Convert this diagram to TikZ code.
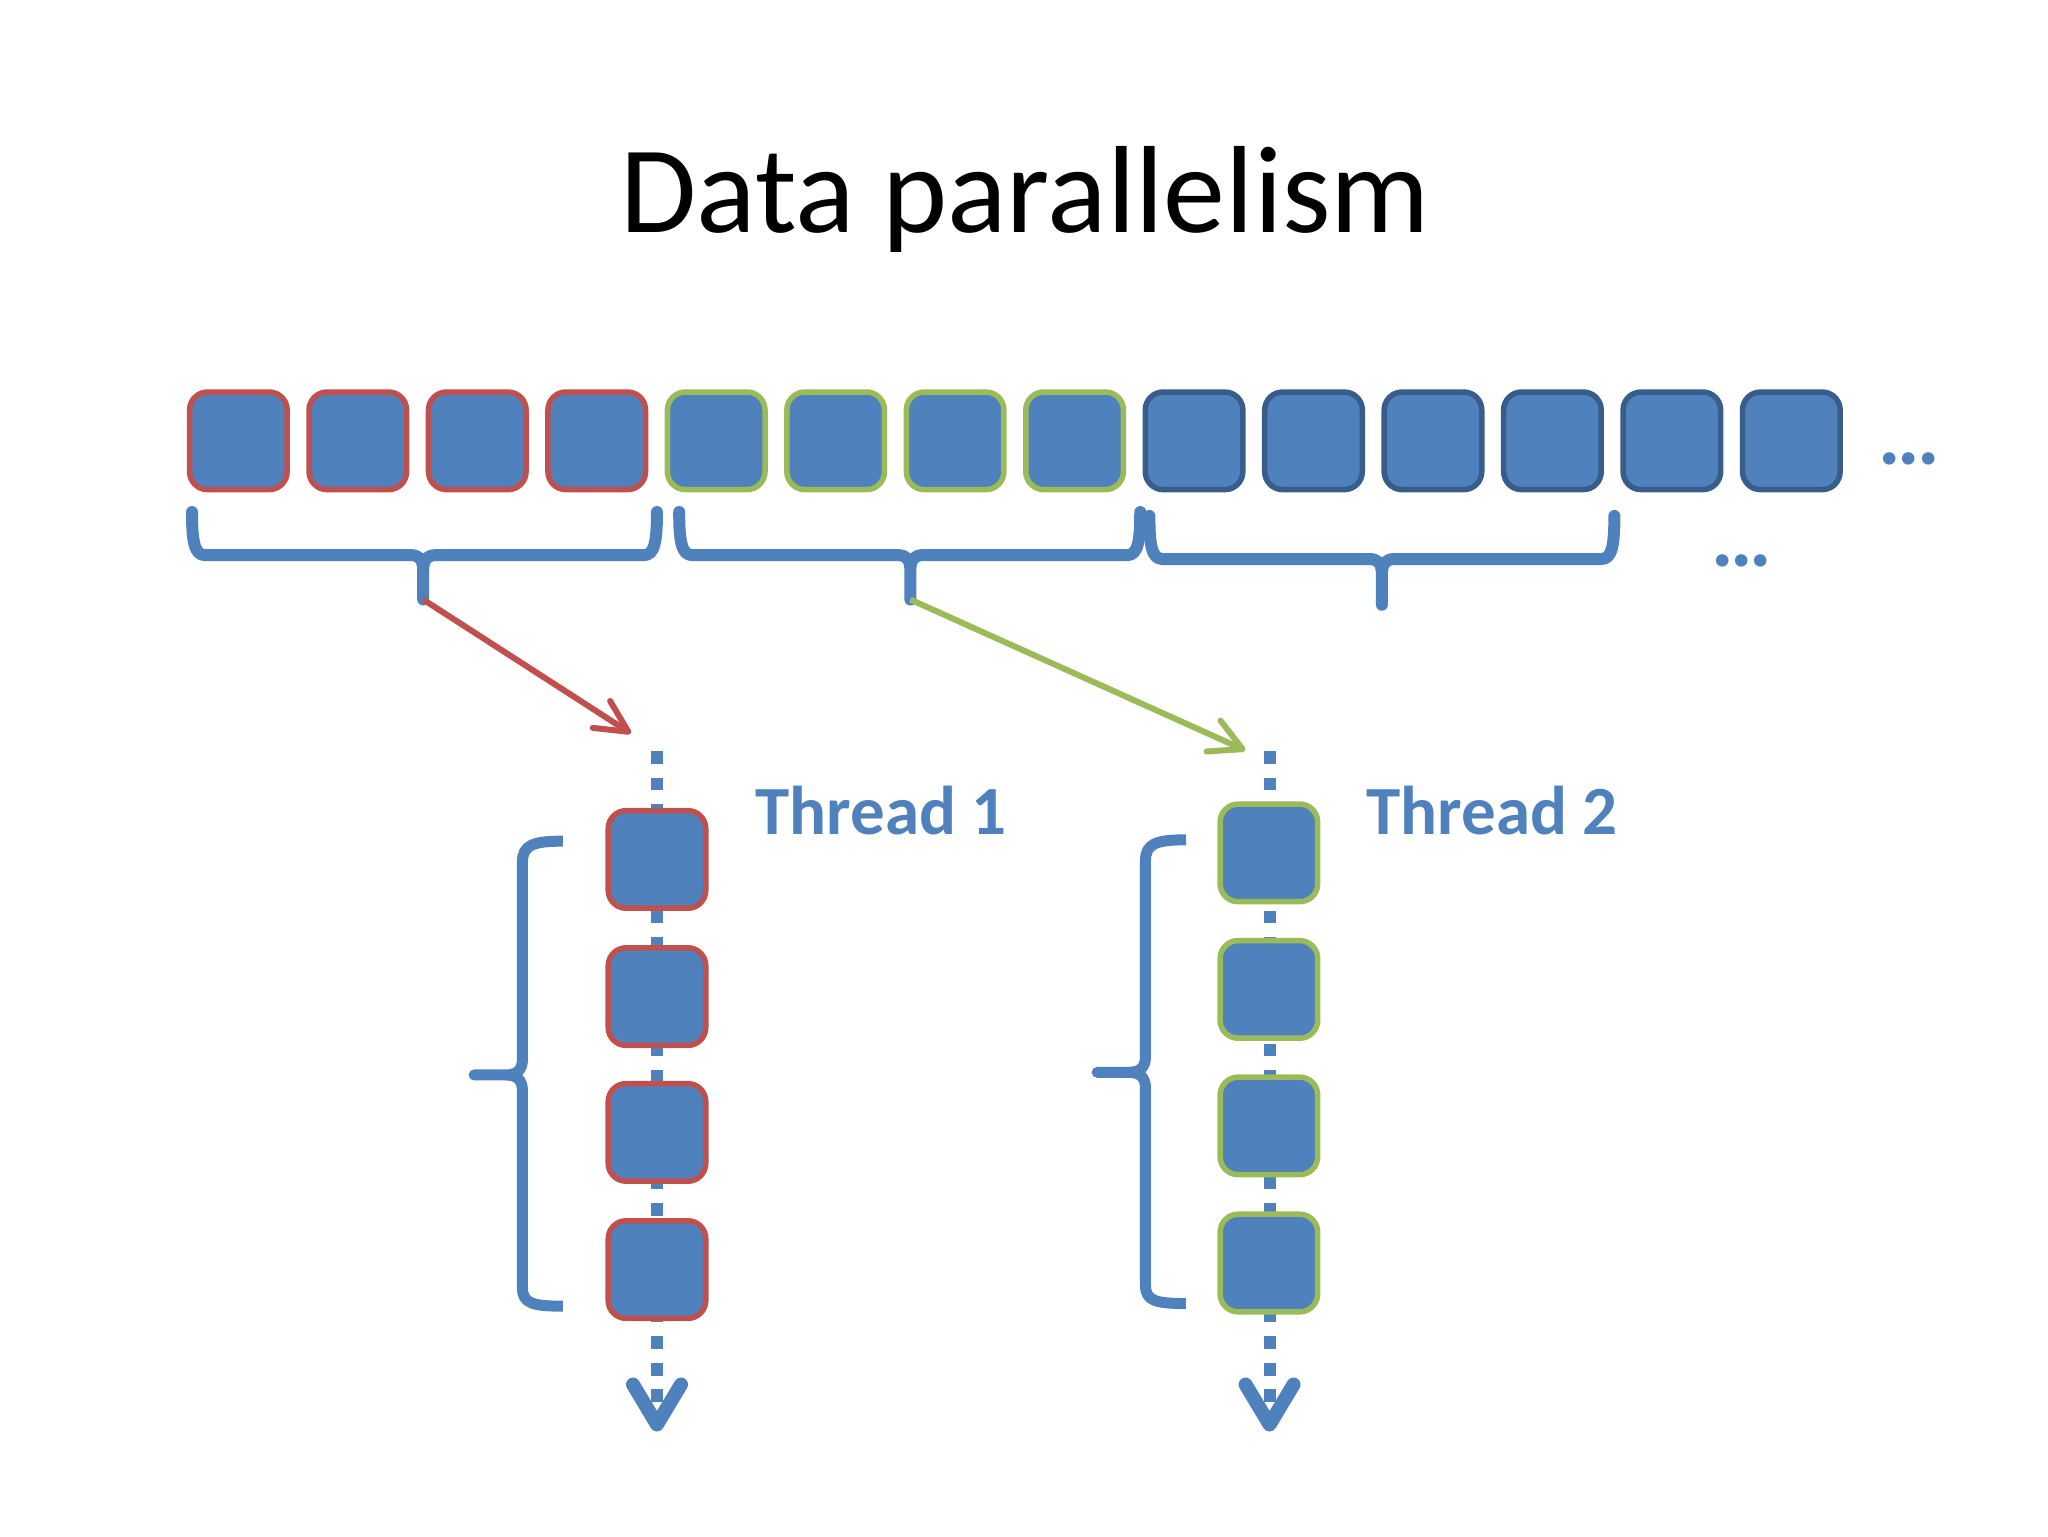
\documentclass[tikz,border=0pt]{standalone}
\usepackage{fontspec}
\setmainfont{Carlito}
\usetikzlibrary{arrows.meta}
\definecolor{cellfill}{HTML}{4F81BD}
\definecolor{redb}{HTML}{C0504D}
\definecolor{greenb}{HTML}{9BBB59}
\definecolor{blueb}{HTML}{385D8A}
\definecolor{lineblue}{HTML}{4F81BD}
\begin{document}
\begin{tikzpicture}[x=0.65306pt,y=-0.65306pt,
  cell/.style={draw, line width=2.75pt, fill=cellfill, rounded corners=9pt,
    minimum width=48.8pt, minimum height=48.8pt, inner sep=0pt},
  redcell/.style={cell, draw=redb},
  greencell/.style={cell, draw=greenb},
  bluecell/.style={cell, draw=blueb},
  brace/.style={draw=lineblue, line width=6pt, line join=round, line cap=round},
  sidebrace/.style={draw=lineblue, line width=5.5pt, line join=round, line cap=butt},
  threadline/.style={draw=lineblue, line width=6pt, dash pattern=on 6.4pt off 6.9pt,
    -{Straight Barb[length=20pt,width=24pt,line width=7pt,round]}},
  redarrow/.style={draw=redb, line width=3pt, -{Straight Barb[length=16pt,width=16pt,round]}},
  greenarrow/.style={draw=greenb, line width=3pt, -{Straight Barb[length=16pt,width=17pt,round]}},
  tlabel/.style={anchor=base west, inner sep=0pt, text=lineblue,
    font=\bfseries\fontsize{34.5pt}{34.5pt}\selectfont},
  dots/.style={anchor=base west, inner sep=0pt, text=lineblue,
    font=\bfseries\fontsize{42pt}{42pt}\selectfont}
]
\useasboundingbox (0,0) rectangle (1568,1176);

% title
\node[anchor=base, inner sep=0pt, font=\fontsize{62pt}{62pt}\selectfont] (title) at (785,178) {Data parallelism};

% top row of cells
\foreach \i in {0,1,2,3} {\node[redcell] (t\i) at ({182.5+91.46*\i},337.5) {};}
\foreach \i in {4,5,6,7} {\node[greencell] (t\i) at ({182.5+91.46*\i},337.5) {};}
\foreach \i in {8,...,13} {\node[bluecell] (t\i) at ({182.5+91.46*\i},337.5) {};}
\node[dots] (dotsA) at (1438,356) {.\kern-1.6pt.\kern-1.6pt.};
\node[dots] (dotsB) at (1310,434) {.\kern-1.6pt.\kern-1.6pt.};

% braces below the row
\draw[brace] (147,392) .. controls (147,415) and (149,425) .. (157,425) -- (314,425)
  .. controls (321,425) and (324,428) .. (324,437) -- (324,459) -- (324,437)
  .. controls (324,428) and (327,425) .. (334,425) -- (493,425)
  .. controls (501,425) and (503,415) .. (503,392);
\draw[brace] (520,392) .. controls (520,415) and (522,425) .. (530,425) -- (687,425)
  .. controls (694,425) and (697,428) .. (697,437) -- (697,459) -- (697,437)
  .. controls (697,428) and (700,425) .. (707,425) -- (863,425)
  .. controls (871,425) and (873,415) .. (873,392);
\draw[brace] (880,395) .. controls (880,418) and (882,428) .. (890,428) -- (1048,428)
  .. controls (1055,428) and (1058,431) .. (1058,440) -- (1058,463) -- (1058,440)
  .. controls (1058,431) and (1061,428) .. (1068,428) -- (1226,428)
  .. controls (1234,428) and (1236,418) .. (1236,395);

% coordinates for connectors
\coordinate (tipA) at (324,459);
\coordinate (tipB) at (697,459);
\coordinate (inA) at (483,561.5);
\coordinate (inB) at (953.5,574.5);
\coordinate (sA) at (503,575);
\coordinate (eA) at (503,1096);
\coordinate (sB) at (972,575);
\coordinate (eB) at (972,1096);

\draw[redarrow] (tipA) -- (inA);
\draw[greenarrow] (tipB) -- (inB);

% thread lines
\draw[threadline] (sA) -- (eA);
\draw[threadline] (sB) -- (eB);

% thread cells
\node[redcell] (a1) at (503,658) {};
\node[redcell] (a2) at (503,763) {};
\node[redcell] (a3) at (503,867) {};
\node[redcell] (a4) at (503,972) {};
\node[greencell] (b1) at (971.5,653) {};
\node[greencell] (b2) at (971.5,757.5) {};
\node[greencell] (b3) at (971.5,862) {};
\node[greencell] (b4) at (971.5,967) {};

\node[tlabel] (lab1) at (578,639) {Thread 1};
\node[tlabel] (lab2) at (1046,639) {Thread 2};

% side braces
\draw[sidebrace] (431,644) .. controls (408,644) and (400,647) .. (400,660) -- (400,811)
  .. controls (400,819) and (396,823) .. (387,823) -- (363,823) -- (387,823)
  .. controls (396,823) and (400,827) .. (400,835) -- (400,986)
  .. controls (400,998) and (408,1000) .. (431,1000);
\draw[sidebrace] (908,643) .. controls (885,643) and (877,646) .. (877,659) -- (877,809)
  .. controls (877,817) and (873,821) .. (864,821) -- (840,821) -- (864,821)
  .. controls (873,821) and (877,825) .. (877,833) -- (877,984)
  .. controls (877,996) and (885,998) .. (908,998);
\end{tikzpicture}
\end{document}
